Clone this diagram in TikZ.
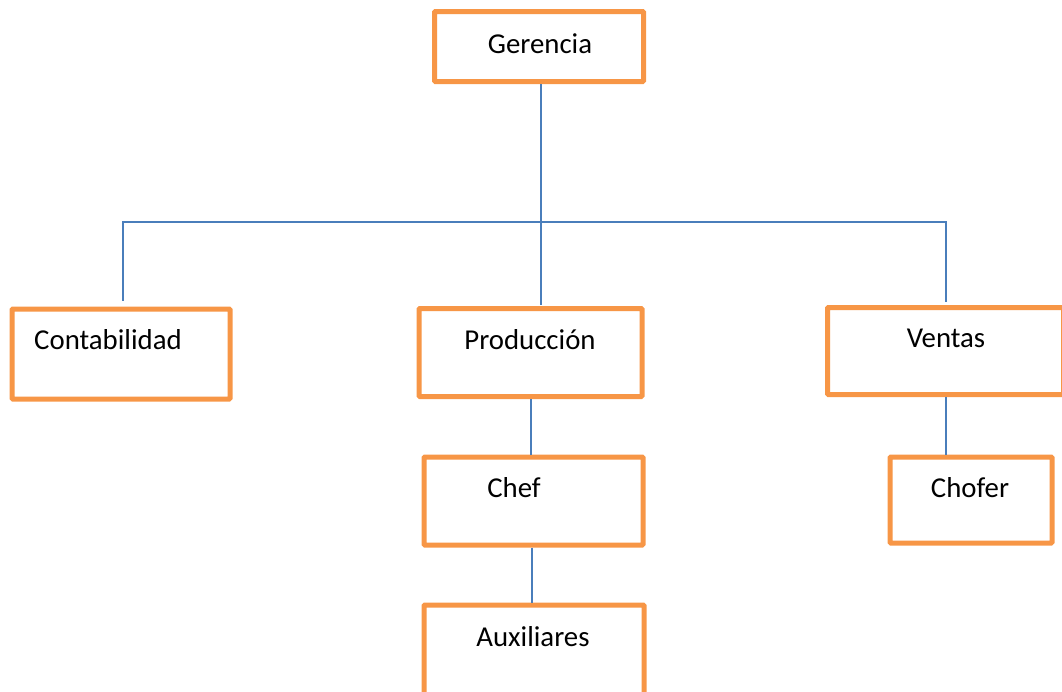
\documentclass[tikz,border=0pt]{standalone}
\usepackage{fontspec}
\setmainfont{Carlito}
\definecolor{boxorange}{HTML}{F79646}
\definecolor{lineblue}{HTML}{4A7EBB}
\begin{document}
\begin{tikzpicture}[x=1pt,y=-1pt,
  box/.style={draw=boxorange,line width=5pt,fill=white,rounded corners=1pt,inner sep=0pt},
  lbl/.style={font=\fontsize{28.8}{34}\selectfont,inner sep=0pt,anchor=center},
  conn/.style={draw=lineblue,line width=1.6pt}]
\useasboundingbox (0,0) rectangle (1062,691);
\clip (0,0) rectangle (1062,691);
% boxes
\node[box,minimum width=209pt,minimum height=70pt] (ger) at (539,46.5) {};
\node[box,minimum width=218pt,minimum height=90pt] (cont) at (121,354) {};
\node[box,minimum width=223pt,minimum height=88pt] (prod) at (530.5,352.5) {};
\node[box,minimum width=236pt,minimum height=87pt] (ven) at (945.5,351) {};
\node[box,minimum width=219pt,minimum height=88pt] (chef) at (533.5,501) {};
\node[box,minimum width=162pt,minimum height=86pt] (cho) at (971,500) {};
\node[box,minimum width=220pt,minimum height=90pt] (aux) at (534,650) {};
% texts
\node[lbl] (tger) at (540,44) {Gerencia};
\node[lbl] (tcont) at (108,340) {Contabilidad};
\node[lbl] (tprod) at (530,340) {Producción};
\node[lbl] (tven) at (946,338) {Ventas};
\node[lbl] (tchef) at (514,488) {Chef};
\node[lbl] (tcho) at (970,488) {Chofer};
\node[lbl] (taux) at (533,637) {Auxiliares};
% connectors
\coordinate (busM) at (541,222);
\coordinate (busL) at (123,222);
\coordinate (busR) at (946,222);
\draw[conn] (ger.south -| busM) -- ([yshift=1pt]prod.north -| busM);
\draw[conn] ([yshift=6pt]cont.north -| busL) -- (busL) -- (busR) -- ([yshift=3pt]ven.north -| busR);
\draw[conn] (prod.south -| 531,0) -- (chef.north -| 531,0);
\draw[conn] (chef.south -| 532,0) -- (aux.north -| 532,0);
\draw[conn] (ven.south -| busR) -- (cho.north -| busR);
\end{tikzpicture}
\end{document}
